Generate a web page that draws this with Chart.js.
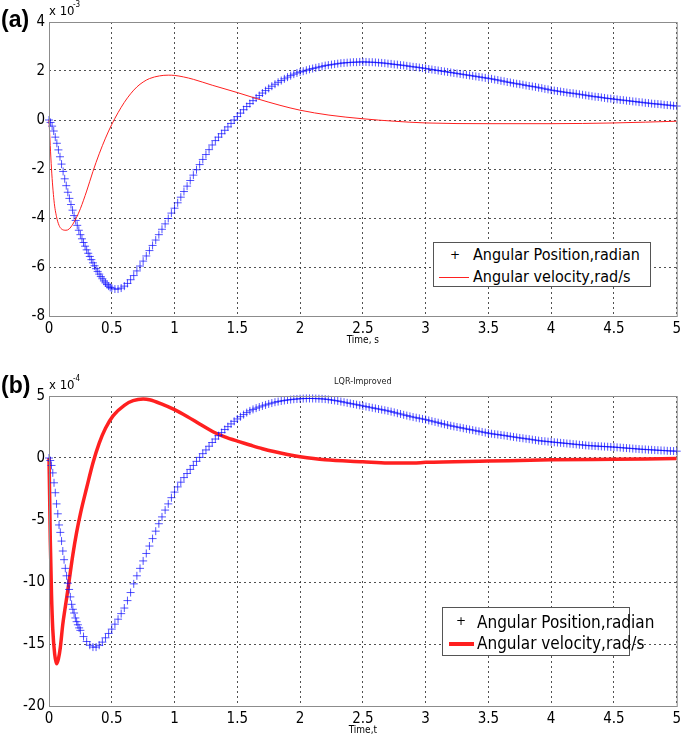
<!DOCTYPE html>
<html>
<head>
<meta charset="utf-8">
<script src="https://cdn.jsdelivr.net/npm/chart.js@4.4.0/dist/chart.umd.min.js"></script>
<style>
body { margin: 0; background: #fff; }
#wrap { position: relative; width: 685px; height: 741px; overflow: hidden; font-family: 'Liberation Sans Narrow', 'DejaVu Sans Condensed', sans-serif; }
canvas { position: absolute; left: 0; }
.tag { position: absolute; left: 1px; font: bold 23px 'Liberation Sans', Arial, sans-serif; color: #000; }
.legend { position: absolute; background: #fff; border: 1px solid #555; }
.legend span { position: absolute; white-space: nowrap; color: #000; }
.plus { color: #2020ff; font-family: 'DejaVu Sans', sans-serif; }
.swatch { position: absolute; background: #ff2020; }
</style>
</head>
<body>
<div id="wrap">
    <canvas id="chartA" width="685" height="355" style="top:0"></canvas>
    <canvas id="chartB" width="685" height="386" style="top:355px"></canvas>

    <div class="tag" style="top:6px">(a)</div>
    <div class="tag" style="top:372px">(b)</div>

    <div class="legend" style="left:433px; top:242px; width:216px; height:43px; font-size:16px">
        <span class="plus" style="left:16px; top:2px; font-size:12px; line-height:20px">+</span>
        <span style="left:39px; top:2px; line-height:20px">Angular Position,radian</span>
        <div class="swatch" style="left:5px; top:34px; width:30px; height:1px"></div>
        <span style="left:39px; top:24px; line-height:20px">Angular velocity,rad/s</span>
    </div>

    <div class="legend" style="left:442px; top:607px; width:186px; height:47px; font-size:17px">
        <span class="plus" style="left:13px; top:3px; font-size:12px; line-height:20px">+</span>
        <span style="left:34px; top:4px; line-height:20px">Angular Position,radian</span>
        <div class="swatch" style="left:6px; top:34px; width:25px; height:4px"></div>
        <span style="left:34px; top:25px; line-height:20px">Angular velocity,rad/s</span>
    </div>
</div>

<script>
// sample times of the position markers
const tStartA = [0, 0.0125, 0.025, 0.0375, 0.05, 0.0625, 0.075, 0.0875, 0.1, 0.1125,
    0.125, 0.1375, 0.15, 0.1625, 0.175, 0.1875, 0.2, 0.2125, 0.225, 0.2375,
    0.25, 0.2625, 0.275, 0.2875, 0.3, 0.3125, 0.325, 0.3375, 0.35, 0.3625,
    0.375, 0.3875, 0.4, 0.4125, 0.425, 0.4375, 0.45, 0.4625, 0.475, 0.4875];
const tStartB = [0, 0.01, 0.02, 0.03, 0.04, 0.05, 0.06, 0.07, 0.08, 0.09,
    0.1, 0.11, 0.12, 0.13, 0.14, 0.15, 0.16, 0.17, 0.18, 0.19,
    0.2, 0.21, 0.22, 0.23, 0.24,
    0.25, 0.275, 0.3, 0.325, 0.35, 0.375, 0.4, 0.425, 0.45, 0.475];
const tMain = [0.5, 0.525, 0.55, 0.575, 0.6, 0.625, 0.65, 0.675, 0.7, 0.725,
    0.75, 0.775, 0.8, 0.825, 0.85, 0.875, 0.9, 0.925, 0.95, 0.975,
    1, 1.025, 1.05, 1.075, 1.1, 1.125, 1.15, 1.175, 1.2, 1.225,
    1.25, 1.275, 1.3, 1.325, 1.35, 1.375, 1.4, 1.425, 1.45, 1.475,
    1.5, 1.525, 1.55, 1.575, 1.6, 1.625, 1.65, 1.675, 1.7, 1.725,
    1.75, 1.775, 1.8, 1.825, 1.85, 1.875, 1.9, 1.925, 1.95, 1.975,
    2, 2.025, 2.05, 2.075, 2.1, 2.125, 2.15, 2.175, 2.2, 2.225,
    2.25, 2.275, 2.3, 2.325, 2.35, 2.375, 2.4, 2.425, 2.45, 2.475,
    2.5, 2.525, 2.55, 2.575, 2.6, 2.625, 2.65, 2.675, 2.7, 2.725,
    2.75, 2.775, 2.8, 2.825, 2.85, 2.875, 2.9, 2.925, 2.95, 2.975,
    3, 3.025, 3.05, 3.075, 3.1, 3.125, 3.15, 3.175, 3.2, 3.225,
    3.25, 3.275, 3.3, 3.325, 3.35, 3.375, 3.4, 3.425, 3.45, 3.475,
    3.5, 3.525, 3.55, 3.575, 3.6, 3.625, 3.65, 3.675, 3.7, 3.725,
    3.75, 3.775, 3.8, 3.825, 3.85, 3.875, 3.9, 3.925, 3.95, 3.975,
    4, 4.025, 4.05, 4.075, 4.1, 4.125, 4.15, 4.175, 4.2, 4.225,
    4.25, 4.275, 4.3, 4.325, 4.35, 4.375, 4.4, 4.425, 4.45, 4.475,
    4.5, 4.525, 4.55, 4.575, 4.6, 4.625, 4.65, 4.675, 4.7, 4.725,
    4.75, 4.775, 4.8, 4.825, 4.85, 4.875, 4.9, 4.925, 4.95, 4.975,
    5];

// ---- (a) values in units of 1e-3 ----
const posA = [0, -0.1, -0.25, -0.45, -0.7, -0.95, -1.22, -1.5, -1.8, -2.1,
    -2.4, -2.68, -2.95, -3.2, -3.45, -3.68, -3.9, -4.1, -4.3, -4.5,
    -4.68, -4.85, -5.0, -5.15, -5.3, -5.44, -5.57, -5.7, -5.83, -5.95,
    -6.07, -6.18, -6.29, -6.39, -6.48, -6.57, -6.65, -6.72, -6.78, -6.83,
    -6.86, -6.9, -6.9, -6.86, -6.78, -6.67, -6.52, -6.35, -6.16, -5.96,
    -5.76, -5.55, -5.33, -5.12, -4.9, -4.68, -4.46, -4.24, -4.02, -3.8,
    -3.6, -3.38, -3.15, -2.92, -2.7, -2.47, -2.25, -2.03, -1.82, -1.61,
    -1.41, -1.21, -1.02, -0.84, -0.7, -0.56, -0.42, -0.28, -0.14, 0.0,
    0.14, 0.28, 0.42, 0.55, 0.67, 0.79, 0.9, 1.0, 1.1, 1.2,
    1.29, 1.38, 1.46, 1.54, 1.61, 1.68, 1.75, 1.81, 1.87, 1.92,
    1.96, 1.99, 2.03, 2.07, 2.1, 2.13, 2.16, 2.19, 2.22, 2.24,
    2.26, 2.28, 2.3, 2.32, 2.33, 2.34, 2.35, 2.36, 2.36, 2.37,
    2.37, 2.37, 2.36, 2.36, 2.35, 2.34, 2.33, 2.32, 2.3, 2.29,
    2.27, 2.26, 2.24, 2.23, 2.21, 2.19, 2.17, 2.16, 2.14, 2.12,
    2.1, 2.08, 2.06, 2.04, 2.02, 2.0, 1.98, 1.96, 1.94, 1.92,
    1.9, 1.88, 1.86, 1.84, 1.82, 1.8, 1.78, 1.76, 1.74, 1.72,
    1.7, 1.68, 1.65, 1.63, 1.6, 1.58, 1.55, 1.53, 1.5, 1.48,
    1.46, 1.44, 1.41, 1.39, 1.37, 1.35, 1.32, 1.3, 1.27, 1.25,
    1.22, 1.2, 1.18, 1.16, 1.14, 1.12, 1.1, 1.09, 1.07, 1.05,
    1.03, 1.01, 0.99, 0.97, 0.95, 0.94, 0.92, 0.9, 0.88, 0.87,
    0.85, 0.84, 0.82, 0.81, 0.79, 0.78, 0.76, 0.75, 0.73, 0.72,
    0.7, 0.69, 0.67, 0.66, 0.65, 0.64, 0.62, 0.61, 0.6, 0.58,
    0.57];

const timeVelA = [0, 0.02, 0.04, 0.06, 0.08, 0.1, 0.135, 0.16, 0.19, 0.22,
    0.25, 0.3, 0.35, 0.4, 0.45, 0.5, 0.55, 0.6, 0.65, 0.7,
    0.75, 0.8, 0.88, 0.95, 1, 1.07, 1.15, 1.3, 1.5, 1.65,
    1.84, 2, 2.23, 2.5, 2.75, 3, 3.5, 4, 4.5, 5];
const velA = [0, -2.0, -3.3, -3.95, -4.3, -4.45, -4.5, -4.45, -4.25, -3.97,
    -3.62, -2.9, -2.1, -1.38, -0.74, -0.18, 0.3, 0.72, 1.07, 1.35,
    1.55, 1.69, 1.8, 1.83, 1.82, 1.76, 1.66, 1.42, 1.12, 0.88,
    0.6, 0.4, 0.2, 0.05, -0.05, -0.12, -0.15, -0.15, -0.12, -0.05];

// ---- (b) values in units of 1e-4 ----
const posB = [0, -0.2, -0.6, -1.2, -2.0, -2.8, -3.7, -4.5, -5.4, -6.0,
    -6.7, -7.5, -8.2, -8.9, -9.5, -10.1, -10.6, -11.2, -11.8, -12.2,
    -12.5, -12.9, -13.2, -13.45, -13.7,
    -13.9, -14.4, -14.8, -15.1, -15.25, -15.25, -15.1, -14.85, -14.5, -14.15,
    -13.8, -13.4, -13.0, -12.55, -12.1, -11.5, -10.85, -10.15, -9.5, -8.9,
    -8.3, -7.7, -7.1, -6.5, -5.9, -5.3, -4.75, -4.2, -3.7, -3.2,
    -2.75, -2.33, -1.95, -1.58, -1.25, -0.92, -0.6, -0.27, 0.05, 0.35,
    0.65, 0.95, 1.25, 1.53, 1.8, 2.05, 2.3, 2.53, 2.75, 2.96,
    3.15, 3.33, 3.5, 3.66, 3.8, 3.92, 4.02, 4.11, 4.2, 4.28,
    4.36, 4.43, 4.5, 4.55, 4.6, 4.64, 4.68, 4.71, 4.74, 4.76,
    4.78, 4.79, 4.8, 4.8, 4.8, 4.79, 4.78, 4.77, 4.75, 4.72,
    4.68, 4.64, 4.6, 4.55, 4.5, 4.45, 4.4, 4.35, 4.3, 4.25,
    4.2, 4.15, 4.1, 4.05, 4.0, 3.95, 3.9, 3.85, 3.8, 3.74,
    3.68, 3.61, 3.55, 3.48, 3.42, 3.36, 3.3, 3.25, 3.2, 3.15,
    3.1, 3.03, 2.97, 2.91, 2.85, 2.78, 2.72, 2.66, 2.6, 2.55,
    2.5, 2.45, 2.4, 2.35, 2.3, 2.25, 2.2, 2.15, 2.1, 2.05,
    2.0, 1.96, 1.92, 1.89, 1.85, 1.82, 1.78, 1.74, 1.7, 1.66,
    1.62, 1.59, 1.55, 1.52, 1.48, 1.44, 1.4, 1.37, 1.35, 1.32,
    1.3, 1.27, 1.25, 1.22, 1.2, 1.17, 1.15, 1.12, 1.1, 1.07,
    1.05, 1.02, 1.0, 0.98, 0.97, 0.95, 0.94, 0.92, 0.91, 0.89,
    0.88, 0.86, 0.84, 0.82, 0.8, 0.78, 0.76, 0.74, 0.72, 0.7,
    0.69, 0.67, 0.66, 0.64, 0.63, 0.61, 0.6, 0.58, 0.57, 0.56,
    0.55];

const timeVelB = [0, 0.005, 0.01, 0.02, 0.03, 0.045, 0.06, 0.075, 0.09, 0.11,
    0.13, 0.155, 0.19, 0.22, 0.25, 0.3, 0.35, 0.4, 0.45, 0.51,
    0.6, 0.67, 0.75, 0.8, 0.9, 1, 1.1, 1.2, 1.31, 1.4,
    1.52, 1.6, 1.7, 1.8, 1.9, 2, 2.2, 2.5, 2.7, 2.9,
    3, 3.5, 4, 4.5, 5];
const velB = [0, -3, -6.5, -11, -13.8, -15.8, -16.6, -16.2, -15.3, -13.4,
    -12.0, -10.3, -7.8, -6.0, -4.5, -2.4, -0.4, 1.2, 2.4, 3.4,
    4.25, 4.62, 4.75, 4.7, 4.35, 3.9, 3.35, 2.75, 2.1, 1.7,
    1.3, 1.05, 0.75, 0.5, 0.28, 0.1, -0.15, -0.3, -0.4, -0.4,
    -0.35, -0.25, -0.15, -0.1, -0.05];

const xTicks = [0, 0.5, 1, 1.5, 2, 2.5, 3, 3.5, 4, 4.5, 5];

const FONT = "'Liberation Sans Narrow', 'DejaVu Sans Condensed', sans-serif";
Chart.defaults.font.family = FONT;
Chart.defaults.color = '#000';

function toPoints(xs, ys) {
    return xs.map((x, i) => ({ x: x, y: ys[i] }));
}

// box around the plot plus the small texts (axis title, exponent, title)
const frame = {
    id: 'frame',
    afterDraw(chart, args, opts) {
        const { ctx, chartArea: a } = chart;
        ctx.save();
        ctx.strokeStyle = '#8c8c8c';
        ctx.lineWidth = 1;
        ctx.strokeRect(a.left + 0.5, a.top + 0.5, a.right - a.left, a.bottom - a.top);

        ctx.fillStyle = '#000';
        ctx.textBaseline = 'middle';
        ctx.textAlign = 'center';
        ctx.font = '10px ' + FONT;
        ctx.fillText(opts.xTitle, (a.left + a.right) / 2, a.bottom + opts.xTitleGap);
        if (opts.title) {
            ctx.font = '9px ' + FONT;
            ctx.fillStyle = '#222';
            ctx.fillText(opts.title, (a.left + a.right) / 2, a.top - 14);
        }

        ctx.fillStyle = '#000';
        ctx.textAlign = 'left';
        ctx.font = '13px ' + FONT;
        ctx.fillText('x 10', a.left, a.top - 10);
        ctx.font = '8px ' + FONT;
        ctx.fillText(opts.exponent, a.left + 24, a.top - 17);
        ctx.restore();
    }
};

function makeChart(id, cfg) {
    return new Chart(document.getElementById(id), {
        type: 'line',
        data: { datasets: cfg.datasets },
        options: {
            responsive: false,
            animation: false,
            layout: { padding: { top: cfg.padTop, right: 7, left: 0, bottom: 0 } },
            plugins: {
                legend: { display: false },
                tooltip: { enabled: false },
                frame: cfg.frame
            },
            scales: {
                x: {
                    type: 'linear',
                    min: 0,
                    max: 5,
                    afterFit: (scale) => { scale.height = cfg.xHeight; },
                    afterBuildTicks: (scale) => { scale.ticks = xTicks.map(v => ({ value: v })); },
                    ticks: { font: { size: 15 }, padding: 4, maxRotation: 0, callback: (v) => String(+v.toFixed(2)) },
                    grid: { color: 'rgba(50,50,50,0.85)', lineWidth: 1, drawTicks: false },
                    border: { display: false, dash: [2, 3] }
                },
                y: {
                    min: cfg.yMin,
                    max: cfg.yMax,
                    afterFit: (scale) => { scale.width = 49; },
                    ticks: { stepSize: cfg.yStep, font: { size: 15 }, padding: 4, callback: (v) => String(v) },
                    grid: { color: 'rgba(50,50,50,0.85)', lineWidth: 1, drawTicks: false },
                    border: { display: false, dash: [2, 3] }
                }
            }
        },
        plugins: [frame]
    });
}

const blue = 'rgba(10,10,255,0.7)';
const red = '#ff2020';

makeChart('chartA', {
    padTop: 22,
    xHeight: 39,
    yMin: -8, yMax: 4, yStep: 2,
    frame: { xTitle: 'Time, s', xTitleGap: 24, exponent: '-3', title: '' },
    datasets: [{
        label: 'Angular velocity,rad/s',
        data: toPoints(timeVelA, velA),
        borderColor: red,
        borderWidth: 1,
        pointRadius: 0,
        cubicInterpolationMode: 'monotone',
        clip: 4
    }, {
        label: 'Angular Position,radian',
        data: toPoints(tStartA.concat(tMain), posA),
        showLine: false,
        pointStyle: 'cross',
        pointRadius: 4,
        pointBorderWidth: 1,
        pointBorderColor: blue,
        borderColor: blue,
        clip: 6
    }]
});

makeChart('chartB', {
    padTop: 41,
    xHeight: 35,
    yMin: -20, yMax: 5, yStep: 5,
    frame: { xTitle: 'Time,t', xTitleGap: 24, exponent: '-4', title: 'LQR-Improved' },
    datasets: [{
        label: 'Angular Position,radian',
        data: toPoints(tStartB.concat(tMain), posB),
        showLine: false,
        pointStyle: 'cross',
        pointRadius: 4,
        pointBorderWidth: 1,
        pointBorderColor: blue,
        borderColor: blue,
        clip: 6
    }, {
        label: 'Angular velocity,rad/s',
        data: toPoints(timeVelB, velB),
        borderColor: red,
        borderWidth: 3.5,
        pointRadius: 0,
        cubicInterpolationMode: 'monotone',
        clip: 4
    }]
});
</script>
</body>
</html>
